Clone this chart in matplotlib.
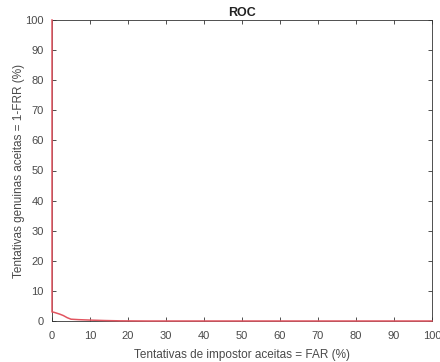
import matplotlib
matplotlib.use("Agg")
import matplotlib.pyplot as plt

far = [0, 0, 0.5, 1, 2, 3, 4, 5, 7, 10, 14, 18, 25, 40, 100]
gar = [100, 3.0, 2.9, 2.7, 2.3, 1.8, 1.1, 0.6, 0.45, 0.3, 0.15, 0.05, 0.0, 0.0, 0.0]
xticks = [0, 10, 20, 30, 40, 50, 60, 70, 80, 90, 100]
yticks = [0, 10, 20, 30, 40, 50, 60, 70, 80, 90, 100]

plt.rcParams['font.family'] = ['Liberation Sans', 'DejaVu Sans']
fig = plt.figure(figsize=(4.4, 3.62), dpi=100)
ax = fig.add_axes([52/440, 1 - 321/362, 380/440, 301/362])
ax.plot(far, gar, color='#e25560', lw=1.1, clip_on=False, zorder=3)
ax.set_xlim(0, 100)
ax.set_ylim(0, 100)
ax.set_xticks(xticks)
ax.set_yticks(yticks)
ax.tick_params(direction='in', length=3, width=0.6, colors='#333333', labelcolor='#4a4a4a',
               labelsize=8, top=True, right=True)
ax.tick_params(axis='x', pad=7)
ax.tick_params(axis='y', pad=6)
for s in ax.spines.values():
    s.set_color('#333333')
    s.set_linewidth(0.6)
ax.set_title('ROC', fontsize=9, fontweight='bold', color='#222222', pad=3)
ax.set_xlabel('Tentativas de impostor aceitas = FAR (%)', fontsize=8.5, color='#4a4a4a', labelpad=6)
ax.set_ylabel('Tentativas genuinas aceitas = 1-FRR (%)', fontsize=8.5, color='#4a4a4a', labelpad=0)
fig.savefig('out.png', dpi=100)
